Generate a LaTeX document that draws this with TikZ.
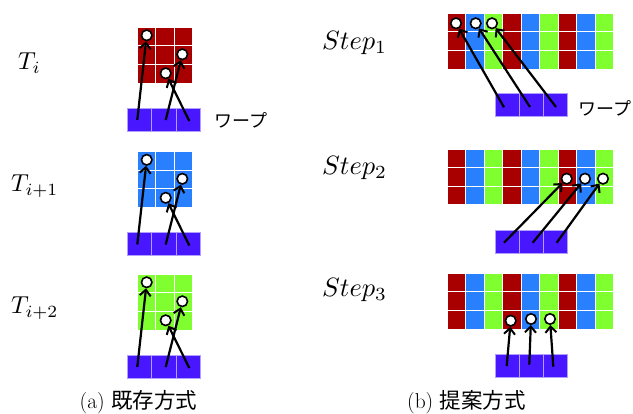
\documentclass[tikz,border=0pt]{standalone}
\usepackage{fontspec}
\newfontfamily\jp{Noto Sans CJK JP}
\usetikzlibrary{arrows.meta}
\definecolor{cr}{RGB}{168,0,0}
\definecolor{cb}{RGB}{40,128,255}
\definecolor{cg}{RGB}{128,255,48}
\definecolor{cw}{RGB}{72,22,255}
\definecolor{cwb}{RGB}{175,160,255}
\newcommand\mybig[2]{\scalebox{#1}{#2}}
\tikzset{
  cellbox/.style={draw=white,line width=0.9pt},
  warpbox/.style={fill=cw,draw=cwb,line width=0.9pt},
  dot/.style={circle,draw=black,fill=white,line width=1.6pt,minimum size=10.5pt,inner sep=0pt},
  acc/.style={line width=2.2pt,-{Straight Barb[length=6pt,width=11pt,line width=2pt]}},
  mlabel/.style={anchor=base west,inner sep=0pt},
  jlabel/.style={inner sep=0pt,font=\fontsize{18}{20}\selectfont\jp},
  caplabel/.style={inner sep=0pt,font=\fontsize{21.5}{24}\selectfont}
}
\begin{document}
\begin{tikzpicture}[x=1pt,y=-1pt]
\useasboundingbox (0,0) rectangle (633,414);
% ---------- left panel ----------
\foreach \k/\dy/\col in {0/0/cr,1/124.5/cb,2/247/cg}{
  \foreach \i in {0,1,2}{
    \foreach \j in {0,1,2}{
      \filldraw[cellbox,fill=\col] (137.5+\i*18.33,27+\dy+\j*18.67) rectangle +(18.33,18.67);
    }
    \filldraw[warpbox] (127.3+\i*24.5,108+\dy) rectangle +(24.5,23);
  }
  \node[dot] (la\k) at (146.7,35.3+\dy) {};
  \node[dot] (lb\k) at (182.3,54.3+\dy) {};
  \node[dot] (lc\k) at (165.7,73.3+\dy) {};
  \coordinate (lsa\k) at (137.3,120+\dy);
  \coordinate (lsb\k) at (165.7,120+\dy);
  \coordinate (lsc\k) at (189.3,121+\dy);
  \draw[acc] (lsa\k) -- (la\k);
  \draw[acc] (lsb\k) -- (lb\k);
  \draw[acc] (lsc\k) -- (lc\k);
}
% ---------- right panel ----------
\foreach \dy in {13.3,149,273.3}{
  \foreach \c/\col in {0/cr,1/cb,2/cg,3/cr,4/cb,5/cg,6/cr,7/cb,8/cg}{
    \foreach \j in {0,1,2}{
      \filldraw[cellbox,fill=\col] (447.3+\c*18.5,\dy+\j*18.6) rectangle +(18.5,18.6);
    }
  }
}
\foreach \dy in {93.3,230,354.3}{
  \foreach \i in {0,1,2}{
    \filldraw[warpbox] (495+\i*24,\dy) rectangle +(24,23.4);
  }
}
% step 1
\node[dot] (r1a) at (456,23.3) {};
\node[dot] (r1b) at (475.7,23.3) {};
\node[dot] (r1c) at (492,23.3) {};
\coordinate (s1a) at (504,107.3);
\coordinate (s1b) at (530,107);
\coordinate (s1c) at (556,107);
\draw[acc] (s1a) -- (r1a);
\draw[acc] (s1b) -- (r1b);
\draw[acc] (s1c) -- (r1c);
% step 2
\node[dot] (r2a) at (566.7,178.7) {};
\node[dot] (r2b) at (585,178.7) {};
\node[dot] (r2c) at (603,178.7) {};
\coordinate (s2a) at (504,242.7);
\coordinate (s2b) at (532.7,242.7);
\coordinate (s2c) at (556.7,242.7);
\draw[acc] (s2a) -- (r2a);
\draw[acc] (s2b) -- (r2b);
\draw[acc] (s2c) -- (r2c);
% step 3
\node[dot] (r3a) at (510.7,320.7) {};
\node[dot] (r3b) at (531,319) {};
\node[dot] (r3c) at (550,319) {};
\coordinate (s3a) at (506.7,366);
\coordinate (s3b) at (529.3,364.7);
\coordinate (s3c) at (553.3,366.7);
\draw[acc] (s3a) -- (r3a);
\draw[acc] (s3b) -- (r3b);
\draw[acc] (s3c) -- (r3c);
% ---------- labels ----------
\node[mlabel] (t0) at (18,70) {\mybig{2.45}{$T_i$}};
\node[mlabel] (t1) at (11,192) {\mybig{2.45}{$T_{i+1}$}};
\node[mlabel] (t2) at (11,314) {\mybig{2.45}{$T_{i+2}$}};
\node[mlabel] (st1) at (322,50) {\mybig{2.65}{$Step_1$}};
\node[mlabel] (st2) at (322,175) {\mybig{2.65}{$Step_2$}};
\node[mlabel] (st3) at (322,297) {\mybig{2.65}{$Step_3$}};
\node[jlabel] (wl) at (241,120) {ワープ};
\node[jlabel] (wr) at (605,108.5) {ワープ};
\node[caplabel] (capa) at (138.5,402) {(a) {\jp 既存方式}};
\node[caplabel] (capb) at (466.5,402) {(b) {\jp 提案方式}};
\end{tikzpicture}
\end{document}
